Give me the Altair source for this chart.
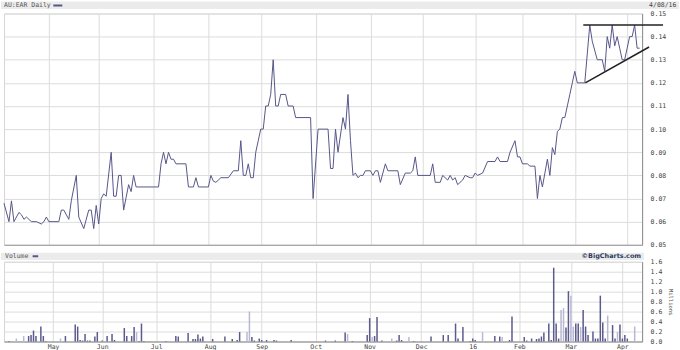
import altair as alt
import pandas as pd

# ---------------- data ----------------
price_day = [0, 2, 3, 4, 6, 7, 8, 9, 10, 11, 13, 15, 16, 17, 18, 22, 23, 24, 26, 27, 29, 30, 32, 34, 35, 36, 37, 38, 39, 40,
             41, 43, 44, 45, 46, 47, 48, 49, 50, 51, 52, 53, 62, 63, 64, 65, 66, 67, 68, 69, 73, 74, 76, 77, 78, 82, 83, 84, 85, 86,
             87, 90, 92, 94, 95, 96, 97, 98, 99, 100, 101, 102, 103, 104, 105, 106, 107, 108, 109, 110, 111, 113, 114, 116, 117, 123, 124, 126, 130, 131,
             132, 133, 134, 136, 137, 138, 139, 140, 141, 142, 143, 144, 145, 147, 148, 149, 150, 151, 153, 154, 158, 159, 161, 163, 164, 165, 166, 171, 172, 173,
             175, 176, 178, 179, 180, 181, 182, 184, 185, 187, 188, 189, 190, 192, 194, 197, 198, 199, 202, 203, 205, 206, 207, 208, 210, 211, 213, 214, 215, 216,
             218, 219, 220, 221, 222, 223, 224, 225, 226, 227, 228, 229, 230, 233, 235, 236, 238, 240, 241, 242, 243, 244, 245, 246, 247, 248, 249, 250, 251, 252,
             253, 254, 255]
price_val = [0.068, 0.060, 0.069, 0.060, 0.064, 0.063, 0.061, 0.062, 0.061, 0.060, 0.060, 0.059, 0.060, 0.062, 0.060, 0.060, 0.065, 0.065, 0.061, 0.069, 0.080, 0.062, 0.057, 0.065, 0.065, 0.057, 0.067, 0.059, 0.070, 0.072,
             0.071, 0.090, 0.071, 0.071, 0.080, 0.080, 0.065, 0.0705, 0.076, 0.073, 0.080, 0.075, 0.075, 0.085, 0.090, 0.085, 0.090, 0.087, 0.087, 0.085, 0.085, 0.075, 0.075, 0.079, 0.075, 0.075, 0.080, 0.0775, 0.077, 0.078,
             0.079, 0.079, 0.082, 0.082, 0.095, 0.080, 0.080, 0.085, 0.079, 0.079, 0.090, 0.095, 0.100, 0.100, 0.110, 0.110, 0.115, 0.130, 0.110, 0.110, 0.115, 0.115, 0.110, 0.110, 0.105, 0.105, 0.070, 0.100, 0.100, 0.083,
             0.083, 0.100, 0.090, 0.105, 0.100, 0.115, 0.095, 0.080, 0.081, 0.079, 0.080, 0.080, 0.082, 0.082, 0.080, 0.082, 0.082, 0.077, 0.085, 0.082, 0.082, 0.076, 0.081, 0.081, 0.082, 0.088, 0.080, 0.080, 0.085, 0.077,
             0.077, 0.080, 0.078, 0.080, 0.078, 0.079, 0.076, 0.078, 0.080, 0.079, 0.079, 0.081, 0.080, 0.081, 0.086, 0.086, 0.088, 0.086, 0.086, 0.090, 0.095, 0.088, 0.088, 0.085, 0.085, 0.084, 0.084, 0.070, 0.080, 0.075,
             0.087, 0.080, 0.092, 0.089, 0.099, 0.100, 0.105, 0.105, 0.110, 0.115, 0.120, 0.125, 0.120, 0.120, 0.145, 0.138, 0.130, 0.130, 0.125, 0.140, 0.135, 0.145, 0.136, 0.140, 0.135, 0.130, 0.130, 0.135, 0.140, 0.140,
             0.145, 0.135, 0.135]

vol_day = [0, 3, 6, 8, 9, 10, 11, 13, 14, 15, 21, 23, 27, 28, 29, 30, 31, 32, 33, 35, 36, 38, 40, 42, 43, 47, 48, 50, 51, 52,
           53, 54, 55, 64, 68, 69, 73, 75, 76, 77, 78, 79, 83, 88, 91, 93, 94, 97, 98, 99, 100, 102, 103, 105, 108, 109, 115, 129, 133,
           137, 138, 140, 146, 147, 148, 149, 150, 152, 156, 158, 159, 160, 163, 165, 172, 177, 179, 182, 183, 185, 188, 189, 190, 193, 198, 200, 201, 204, 205,
           210, 211, 213, 215, 216, 217, 218, 220, 221, 222, 223, 224, 225, 226, 227, 228, 229, 230, 231, 232, 233, 234, 235, 236, 238, 239, 240, 241, 242, 243,
           244, 246, 247, 248, 249, 250, 251, 252, 255]
vol_mil = [0.01, 0.06, 0.11, 0.11, 0.13, 0.22, 0.11, 0.30, 0.11, 0.01, 0.06, 0.11, 0.34, 0.30, 0.03, 0.02, 0.15, 0.02, 0.02, 0.10, 0.19, 0.02, 0.11, 0.15, 0.03, 0.27, 0.11, 0.11, 0.29, 0.19,
           0.01, 0.36, 0.01, 0.01, 0.11, 0.10, 0.17, 0.05, 0.05, 0.14, 0.06, 0.10, 0.05, 0.10, 0.05, 0.03, 0.19, 0.19, 0.60, 0.09, 0.02, 0.06, 0.03, 0.03, 0.03, 0.02, 0.03, 0.02, 0.02,
           0.18, 0.15, 0.01, 0.13, 0.47, 0.09, 0.11, 0.49, 0.02, 0.06, 0.02, 0.13, 0.03, 0.09, 0.01, 0.10, 0.13, 0.13, 0.36, 0.06, 0.29, 0.01, 0.06, 0.03, 0.19, 0.11, 0.10, 0.09, 0.03, 0.50,
           0.09, 0.02, 0.06, 0.05, 0.06, 0.10, 0.18, 0.36, 0.03, 1.48, 0.36, 0.06, 0.63, 0.67, 0.28, 1.01, 0.92, 0.30, 0.36, 0.36, 0.29, 0.63, 0.30, 0.13, 0.20, 0.06, 0.06, 0.92, 0.38, 0.06,
           0.52, 0.33, 0.06, 0.19, 0.34, 0.06, 0.13, 0.06, 0.30]
vol_tone = ["d", "l", "l", "d", "d", "d", "d", "d", "d", "d", "l", "d", "d", "d", "d", "d", "d", "d", "d", "d", "d", "d", "d", "d", "d", "d", "d", "d", "d", "l",
            "d", "d", "d", "d", "d", "d", "d", "d", "d", "d", "d", "d", "d", "d", "d", "d", "d", "l", "l", "d", "d", "d", "d", "d", "d", "d", "d", "d", "d",
            "d", "l", "d", "d", "d", "l", "d", "d", "d", "l", "d", "d", "d", "l", "d", "d", "d", "d", "d", "d", "d", "d", "d", "d", "l", "d", "d", "l", "d", "d",
            "d", "d", "d", "d", "d", "d", "d", "d", "d", "d", "d", "d", "l", "l", "d", "d", "l", "l", "d", "d", "l", "d", "d", "d", "d", "d", "d", "d", "d", "d",
            "l", "d", "d", "l", "d", "d", "d", "d", "l"]

month_day = [18, 38, 60, 82, 103, 125, 147, 168, 189, 208, 229, 250]
month_lbl = ["May", "Jun", "Jul", "Aug", "Sep", "Oct", "Nov", "Dec", "16", "Feb", "Mar", "Apr"]
price_ticks = [0.05, 0.06, 0.07, 0.08, 0.09, 0.10, 0.11, 0.12, 0.13, 0.14, 0.15]
vol_ticks = [0.0, 0.2, 0.4, 0.6, 0.8, 1.0, 1.2, 1.4, 1.6]

resist_day = [232.4, 264.4]
resist_val = [0.145]
support_day = [233.2, 258.8]
support_val = [0.12, 0.1355]

# ---------------- styling ----------------
W, H1, H2 = 640, 232, 80
MONO = "DejaVu Sans Mono"
LINE = "#56568a"
GRID = "#dcdcdc"
LBL = "#444444"

xs = alt.Scale(domain=[0, 256], nice=False, zero=False)
ys = alt.Scale(domain=[0.05, 0.15], nice=False, zero=False)
vs = alt.Scale(domain=[0, 1.6], nice=False, zero=False)

one = pd.DataFrame({"t": [""]})

label_expr = "[" + ",".join("'%s'" % m for m in month_lbl) + "][indexof([" + ",".join(str(d) for d in month_day) + "], datum.value)]"

# ---------------- price panel ----------------
price_df = pd.DataFrame({"day": price_day, "price": price_val})

top_x_axis = alt.Axis(values=month_day, labels=False, ticks=False, domain=True, domainColor="#9a9a9a",
                      grid=True, gridColor=GRID, title=None)
top_y_axis = alt.Axis(orient="right", values=price_ticks, format=".2f", ticks=False, domain=True,
                      domainColor="#8c8c8c", labelPadding=8, labelFont=MONO, labelFontSize=6.5,
                      labelColor=LBL, labelOverlap=False, labelSeparation=0, labelBound=False,
                      tickCount=11, grid=True, gridColor=GRID, title=None)

hdr = alt.Chart(one).mark_rect(color="#ebebeb").encode(
    x=alt.value(-3), x2=alt.value(677), y=alt.value(-12), y2=alt.value(-4.5))
hdr_txt = alt.Chart(pd.DataFrame({"t": ["AU:EAR Daily"]})).mark_text(
    align="left", baseline="middle", font=MONO, fontSize=6.5, color="#555555").encode(
    x=alt.value(0), y=alt.value(-8), text="t:N")
hdr_sw = alt.Chart(one).mark_rule(color=LINE, strokeWidth=2).encode(
    x=alt.value(49.5), x2=alt.value(58.5), y=alt.value(-8))
date_txt = alt.Chart(pd.DataFrame({"t": ["4/08/16"]})).mark_text(
    align="left", baseline="middle", font=MONO, fontSize=6.5, color=LBL).encode(
    x=alt.value(647), y=alt.value(-8), text="t:N")

line = alt.Chart(price_df).mark_line(color=LINE, strokeWidth=1).encode(
    x=alt.X("day:Q", scale=xs, axis=top_x_axis),
    y=alt.Y("price:Q", scale=ys, axis=top_y_axis))

resist = alt.Chart(pd.DataFrame({"d0": [resist_day[0]], "d1": [resist_day[1]], "p": resist_val})).mark_rule(
    color="#222222", strokeWidth=1.5).encode(
    x=alt.X("d0:Q", scale=xs, axis=top_x_axis), x2="d1:Q", y=alt.Y("p:Q", scale=ys, axis=top_y_axis))
support = alt.Chart(pd.DataFrame({"d0": [support_day[0]], "d1": [support_day[1]],
                                  "p0": [support_val[0]], "p1": [support_val[1]]})).mark_rule(
    color="#222222", strokeWidth=1.5).encode(
    x=alt.X("d0:Q", scale=xs, axis=top_x_axis), x2="d1:Q",
    y=alt.Y("p0:Q", scale=ys, axis=top_y_axis), y2="p1:Q")

top = alt.layer(hdr, hdr_txt, hdr_sw, date_txt, line, resist, support).properties(width=W, height=H1)

# ---------------- volume panel ----------------
vol_df = pd.DataFrame({"day": vol_day, "mil": vol_mil, "tone": vol_tone})

bot_x_axis = alt.Axis(values=month_day, labelExpr=label_expr, ticks=False, domain=True, domainColor="#8c8c8c",
                      grid=True, gridColor=GRID, labelFont=MONO, labelFontSize=6.5, labelColor=LBL,
                      labelOverlap=False, labelPadding=2, title=None)
bot_y_axis = alt.Axis(orient="right", values=vol_ticks, format=".1f", ticks=False, domain=True,
                      domainColor="#8c8c8c", labelPadding=8, labelFont=MONO, labelFontSize=6.5,
                      labelColor=LBL, labelOverlap=False, grid=True, gridColor=GRID, title="Millions",
                      titleFont=MONO, titleFontSize=5.5, titleFontWeight="normal", titleColor=LBL,
                      titlePadding=6)

vhdr = alt.Chart(one).mark_rect(color="#ebebeb").encode(
    x=alt.value(-3), x2=alt.value(642), y=alt.value(-9), y2=alt.value(-1.7))
vhdr_txt = alt.Chart(pd.DataFrame({"t": ["Volume"]})).mark_text(
    align="left", baseline="middle", font=MONO, fontSize=6.5, color="#555555").encode(
    x=alt.value(1), y=alt.value(-5.5), text="t:N")
vhdr_sw = alt.Chart(one).mark_rule(color=LINE, strokeWidth=2).encode(
    x=alt.value(28.7), x2=alt.value(34.3), y=alt.value(-5.5))
bc_txt = alt.Chart(pd.DataFrame({"t": ["\u00a9BigCharts.com"]})).mark_text(
    align="right", baseline="middle", font="DejaVu Sans", fontSize=6.5, fontWeight="bold",
    color="#2b3a60").encode(x=alt.value(639), y=alt.value(-5.5), text="t:N")

bars = alt.Chart(vol_df).mark_bar(size=1.5).encode(
    x=alt.X("day:Q", scale=xs, axis=bot_x_axis),
    y=alt.Y("mil:Q", scale=vs, axis=bot_y_axis),
    color=alt.Color("tone:N", scale=alt.Scale(domain=["d", "l"], range=["#5a5a8e", "#b8b8d2"]), legend=None))

bottom = alt.layer(vhdr, vhdr_txt, vhdr_sw, bc_txt, bars).properties(width=W, height=H2)

chart = alt.vconcat(top, bottom, spacing=3).configure(
    padding={"left": 0, "top": 0, "right": 0, "bottom": 0}, background="white"
).configure_view(stroke="#d6d6d6", strokeWidth=1)

chart.save("out.html", embed_options={"renderer": "svg", "actions": False})
